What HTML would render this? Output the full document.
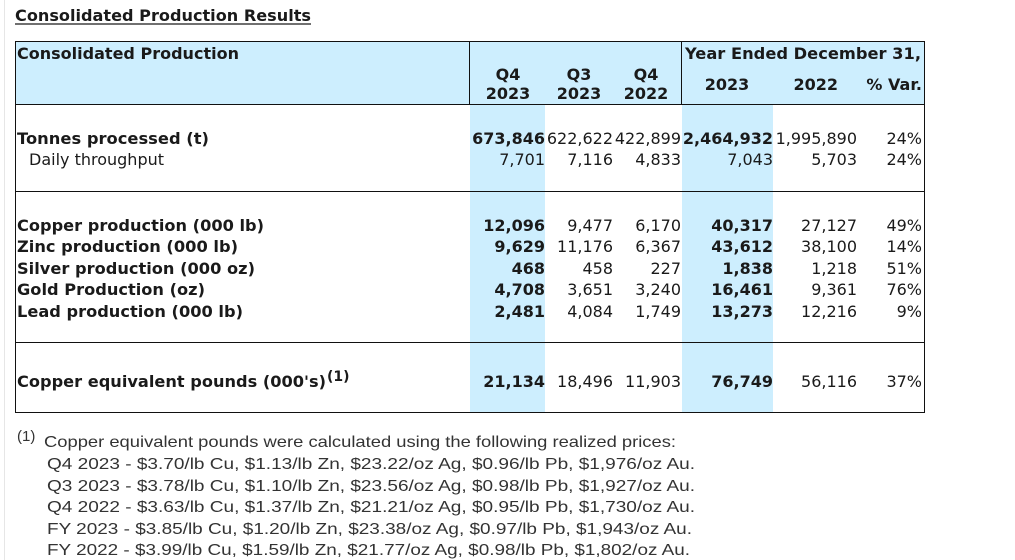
<!DOCTYPE html>
<html><head><meta charset="utf-8"><style>
html,body{margin:0;padding:0;background:#fff;}
svg{display:block;}
text{font-family:"DejaVu Sans","Liberation Sans",sans-serif;font-size:16px;fill:#1a1a1a;}
.b{font-weight:bold;}
.r{text-anchor:end;}
.c{text-anchor:middle;}
.f{font-family:"Liberation Sans",sans-serif;font-size:16px;fill:#333;}
</style></head><body>
<svg width="1015" height="560" viewBox="0 0 1015 560">
<rect x="0" y="0" width="1015" height="560" fill="#fff"/>
<line x1="4.5" y1="0" x2="4.5" y2="560" stroke="#e6e6e6" stroke-width="1"/>
<text x="15" y="21" class="b" textLength="296" lengthAdjust="spacingAndGlyphs">Consolidated Production Results</text>
<line x1="15" y1="24" x2="311" y2="24" stroke="#1a1a1a" stroke-width="1.2"/>
<rect x="15.5" y="41.5" width="909" height="63" fill="#cdeefe"/>
<rect x="470" y="105" width="75" height="308" fill="#cdeefe"/>
<rect x="682" y="105" width="91" height="308" fill="#cdeefe"/>
<rect x="15.5" y="41.5" width="909" height="371" fill="none" stroke="#111" stroke-width="1"/>
<line x1="15" y1="104.5" x2="925" y2="104.5" stroke="#111"/>
<line x1="15" y1="191.5" x2="925" y2="191.5" stroke="#111"/>
<line x1="15" y1="342.5" x2="925" y2="342.5" stroke="#111"/>
<line x1="469.5" y1="41" x2="469.5" y2="104" stroke="#111"/>
<line x1="681.5" y1="41" x2="681.5" y2="104" stroke="#111"/>
<text x="17" y="59" class="b" textLength="222" lengthAdjust="spacingAndGlyphs">Consolidated Production</text>
<text x="508" y="80" class="b c">Q4</text><text x="508" y="99" class="b c">2023</text>
<text x="579" y="80" class="b c">Q3</text><text x="579" y="99" class="b c">2023</text>
<text x="646" y="80" class="b c">Q4</text><text x="646" y="99" class="b c">2022</text>
<text x="685" y="59" class="b" textLength="236" lengthAdjust="spacingAndGlyphs">Year Ended December 31,</text>
<text x="727" y="90" class="b c">2023</text>
<text x="838" y="90" class="b r">2022</text>
<text x="922" y="90" class="b r">% Var.</text>
<g>
<text x="17" y="144" class="b" textLength="192" lengthAdjust="spacingAndGlyphs">Tonnes processed (t)</text>
<text x="545" y="144" class="b r">673,846</text><text x="613" y="144" class="r">622,622</text><text x="681" y="144" class="r">422,899</text>
<text x="773" y="144" class="b r">2,464,932</text><text x="857" y="144" class="r">1,995,890</text><text x="922" y="144" class="r">24%</text>
<text x="29" y="165">Daily throughput</text>
<text x="545" y="165" class="r">7,701</text><text x="613" y="165" class="r">7,116</text><text x="681" y="165" class="r">4,833</text>
<text x="773" y="165" class="r">7,043</text><text x="857" y="165" class="r">5,703</text><text x="922" y="165" class="r">24%</text>
</g>
<g>
<text x="17" y="231" class="b" textLength="247" lengthAdjust="spacingAndGlyphs">Copper production (000 lb)</text>
<text x="545" y="231" class="b r">12,096</text><text x="613" y="231" class="r">9,477</text><text x="681" y="231" class="r">6,170</text>
<text x="773" y="231" class="b r">40,317</text><text x="857" y="231" class="r">27,127</text><text x="922" y="231" class="r">49%</text>
<text x="17" y="252" class="b" textLength="221" lengthAdjust="spacingAndGlyphs">Zinc production (000 lb)</text>
<text x="545" y="252" class="b r">9,629</text><text x="613" y="252" class="r">11,176</text><text x="681" y="252" class="r">6,367</text>
<text x="773" y="252" class="b r">43,612</text><text x="857" y="252" class="r">38,100</text><text x="922" y="252" class="r">14%</text>
<text x="17" y="274" class="b" textLength="238" lengthAdjust="spacingAndGlyphs">Silver production (000 oz)</text>
<text x="545" y="274" class="b r">468</text><text x="613" y="274" class="r">458</text><text x="681" y="274" class="r">227</text>
<text x="773" y="274" class="b r">1,838</text><text x="857" y="274" class="r">1,218</text><text x="922" y="274" class="r">51%</text>
<text x="17" y="295" class="b" textLength="188" lengthAdjust="spacingAndGlyphs">Gold Production (oz)</text>
<text x="545" y="295" class="b r">4,708</text><text x="613" y="295" class="r">3,651</text><text x="681" y="295" class="r">3,240</text>
<text x="773" y="295" class="b r">16,461</text><text x="857" y="295" class="r">9,361</text><text x="922" y="295" class="r">76%</text>
<text x="17" y="317" class="b" textLength="226" lengthAdjust="spacingAndGlyphs">Lead production (000 lb)</text>
<text x="545" y="317" class="b r">2,481</text><text x="613" y="317" class="r">4,084</text><text x="681" y="317" class="r">1,749</text>
<text x="773" y="317" class="b r">13,273</text><text x="857" y="317" class="r">12,216</text><text x="922" y="317" class="r">9%</text>
</g>
<g>
<text x="17" y="387" class="b" textLength="309" lengthAdjust="spacingAndGlyphs">Copper equivalent pounds (000's)</text>
<text x="327" y="381" class="b" style="font-size:14px">(1)</text>
<text x="545" y="387" class="b r">21,134</text><text x="613" y="387" class="r">18,496</text><text x="681" y="387" class="r">11,903</text>
<text x="773" y="387" class="b r">76,749</text><text x="857" y="387" class="r">56,116</text><text x="922" y="387" class="r">37%</text>
</g>
<text x="17" y="441" class="f" style="font-size:15px">(1)</text>
<text x="44" y="447" class="f" textLength="632" lengthAdjust="spacingAndGlyphs">Copper equivalent pounds were calculated using the following realized prices:</text>
<text x="47" y="469" class="f" textLength="648" lengthAdjust="spacingAndGlyphs">Q4 2023 - $3.70/lb Cu, $1.13/lb Zn, $23.22/oz Ag, $0.96/lb Pb, $1,976/oz Au.</text>
<text x="47" y="491" class="f" textLength="648" lengthAdjust="spacingAndGlyphs">Q3 2023 - $3.78/lb Cu, $1.10/lb Zn, $23.56/oz Ag, $0.98/lb Pb, $1,927/oz Au.</text>
<text x="47" y="512" class="f" textLength="648" lengthAdjust="spacingAndGlyphs">Q4 2022 - $3.63/lb Cu, $1.37/lb Zn, $21.21/oz Ag, $0.95/lb Pb, $1,730/oz Au.</text>
<text x="47" y="534" class="f" textLength="645" lengthAdjust="spacingAndGlyphs">FY 2023 - $3.85/lb Cu, $1.20/lb Zn, $23.38/oz Ag, $0.97/lb Pb, $1,943/oz Au.</text>
<text x="47" y="555" class="f" textLength="643" lengthAdjust="spacingAndGlyphs">FY 2022 - $3.99/lb Cu, $1.59/lb Zn, $21.77/oz Ag, $0.98/lb Pb, $1,802/oz Au.</text>
</svg>
</body></html>
